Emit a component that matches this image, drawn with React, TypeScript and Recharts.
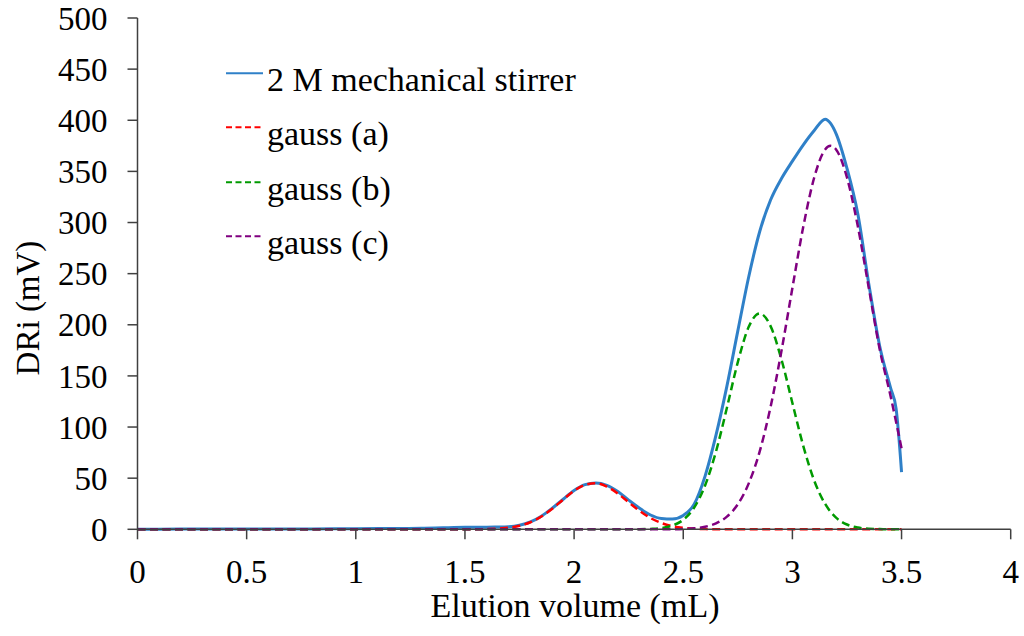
import { LineChart, Line, XAxis, YAxis, Label } from 'recharts';

const volume = [
  0, 0.2, 0.4, 0.6, 0.8, 1.0, 1.2, 1.3, 1.4, 1.45, 1.5, 1.55, 1.6, 1.65, 1.7, 1.75,
  1.8, 1.85, 1.9, 1.95, 2.0, 2.05, 2.1, 2.15, 2.2, 2.25, 2.3, 2.35, 2.4, 2.45, 2.5,
  2.55, 2.6, 2.65, 2.7, 2.75, 2.8, 2.85, 2.9, 2.95, 3.0, 3.05, 3.1, 3.15, 3.175,
  3.2, 3.25, 3.3, 3.35, 3.4, 3.45, 3.475, 3.5,
];

const stirrer = [
  0, 0.2, 0.3, 0.3, 0.4, 0.6, 0.8, 1.0, 1.4, 1.8, 2.0, 2.1, 2.1, 2.2, 2.5, 3.9,
  7.2, 12.8, 20.6, 29.4, 38, 43.7, 45.3, 43, 37, 28.5, 20.5, 14, 10.5, 10, 13.5,
  24.5, 52, 92, 140, 194, 247, 291, 322, 343, 360, 376, 390, 401, 397,
  387, 353, 308, 240, 179, 138, 118, 56,
];

const gaussA = [
  0, 0, 0, 0, 0, 0, 0, 0, 0, 0, 0, 0, 0.2, 0.6, 1.5, 3.4,
  6.9, 12.5, 20.2, 29.1, 37.6, 43.4, 45, 41.8, 35, 26.4, 18, 11, 6.1, 3.0, 1.4,
  0.5, 0.2, 0.1, 0, 0, 0, 0, 0, 0, 0, 0, 0, 0, 0,
  0, 0, 0, 0, 0, 0, 0, 0,
];

const gaussB = [
  0, 0, 0, 0, 0, 0, 0, 0, 0, 0, 0, 0, 0, 0, 0, 0,
  0, 0, 0, 0, 0, 0, 0, 0, 0, 0, 0.1, 0.4, 1.2, 3.6, 9.3,
  21.2, 42.8, 76, 118.8, 163.5, 198, 211, 198.7, 166, 123.5, 81.4, 47.6, 24.8, 17.1,
  11.4, 4.7, 1.7, 0.5, 0.2, 0, 0, 0,
];

const gaussC = [
  0, 0, 0, 0, 0, 0, 0, 0, 0, 0, 0, 0, 0, 0, 0, 0,
  0, 0, 0, 0, 0, 0, 0, 0, 0, 0, 0, 0, 0, 0.1, 0.4,
  1.0, 2.5, 5.8, 12.4, 24.5, 44.9, 76, 119.7, 174.5, 236, 296, 344, 371.5, 375,
  371.5, 344, 296, 236, 176, 130, 105, 79,
];

const xTicks = [0, 0.5, 1, 1.5, 2, 2.5, 3, 3.5, 4];
const yTicks = [0, 50, 100, 150, 200, 250, 300, 350, 400, 450, 500];

const data = volume.map((v, i) => ({
  v,
  stirrer: stirrer[i],
  a: gaussA[i],
  b: gaussB[i],
  c: gaussC[i],
}));

const series = [
  { key: 'stirrer', name: '2 M mechanical stirrer', color: '#2f80c8', dash: undefined, width: 3 },
  { key: 'a', name: 'gauss (a)', color: '#ff0000', dash: '8 4.5', width: 2.5 },
  { key: 'b', name: 'gauss (b)', color: '#009a00', dash: '8 4.5', width: 2.5 },
  { key: 'c', name: 'gauss (c)', color: '#800080', dash: '8 4.5', width: 2.5 },
];

const font = '"Liberation Serif", "Times New Roman", serif';
const tickStyle = { fontFamily: font, fontSize: 33, fill: '#000' };
const axisColor = '#404040';

// legend sits inside the plot area, drawn as its own block over the chart
function ChartLegend() {
  return (
    <div style={{ position: 'absolute', left: 226, top: 58 }}>
      {series.map((s) => (
        <svg key={s.key} width={420} height={54.4} style={{ display: 'block' }}>
          <line
            x1={0}
            x2={37}
            y1={15.3}
            y2={15.3}
            stroke={s.color}
            strokeWidth={2}
            strokeDasharray={s.dash ? '6 3.5' : undefined}
          />
          <text x={41} y={33} fontFamily={font} fontSize={34} fill="#000">
            {s.name}
          </text>
        </svg>
      ))}
    </div>
  );
}

export default function App() {
  return (
    <div
      style={{
        position: 'absolute',
        left: 0,
        top: 0,
        width: 1024,
        height: 636,
        background: '#fff',
        fontFamily: font,
      }}
    >
      <LineChart
        width={1024}
        height={636}
        data={data}
        margin={{ top: 18, right: 13.3, bottom: 0, left: 0 }}
        style={{ fontFamily: font }}
      >
        <XAxis
          dataKey="v"
          type="number"
          domain={[0, 4]}
          ticks={xTicks}
          interval={0}
          height={106.7}
          tickSize={10}
          tickMargin={20}
          tick={tickStyle}
          stroke={axisColor}
          strokeWidth={1.5}
        >
          <Label
            content={() => (
              <text x={575} y={617} textAnchor="middle" fontFamily={font} fontSize={34} fill="#000">
                Elution volume (mL)
              </text>
            )}
          />
        </XAxis>
        <YAxis
          type="number"
          domain={[0, 500]}
          ticks={yTicks}
          interval={0}
          width={137.5}
          tickSize={10}
          tickMargin={20}
          tick={tickStyle}
          stroke={axisColor}
          strokeWidth={1.5}
        >
          <Label
            content={() => (
              <text
                x={39}
                y={308}
                transform="rotate(-90 39 308)"
                textAnchor="middle"
                fontFamily={font}
                fontSize={33}
                fill="#000"
              >
                DRi (mV)
              </text>
            )}
          />
        </YAxis>
        {series.map((s) => (
          <Line
            key={s.key}
            type="monotone"
            dataKey={s.key}
            name={s.name}
            stroke={s.color}
            strokeWidth={s.width}
            strokeDasharray={s.dash}
            dot={false}
            activeDot={false}
            isAnimationActive={false}
          />
        ))}
      </LineChart>
      <ChartLegend />
    </div>
  );
}
